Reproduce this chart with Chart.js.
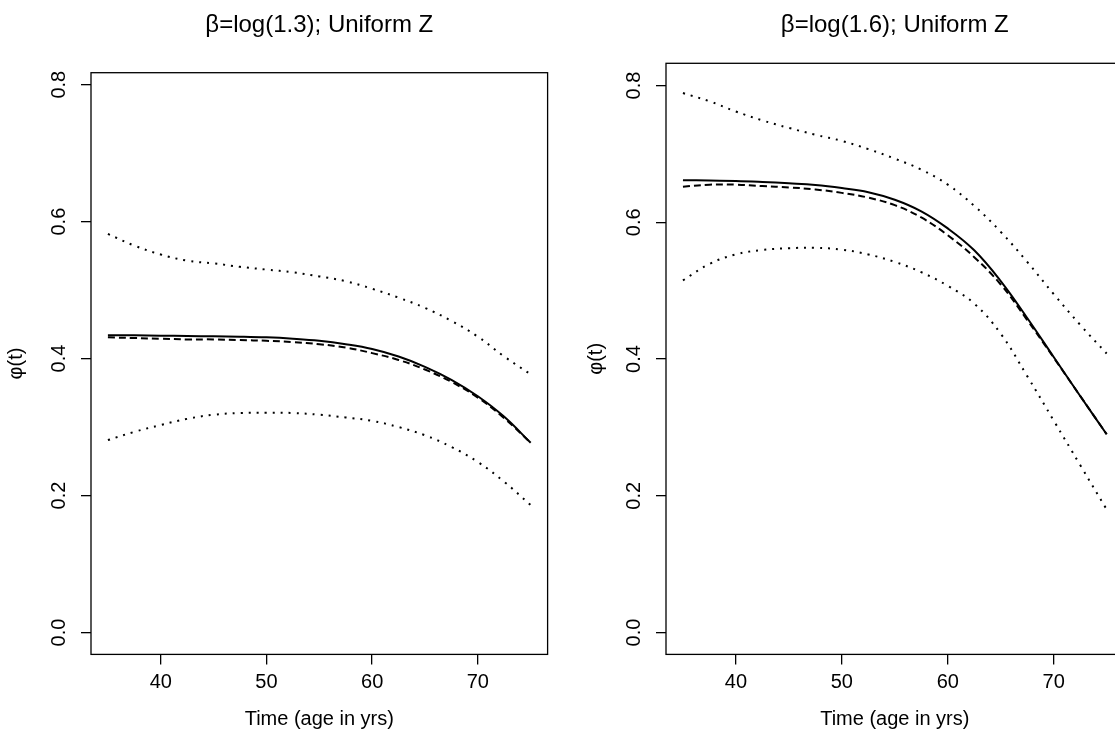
<!DOCTYPE html>
<html>
<head>
<meta charset="utf-8">
<script src="https://cdn.jsdelivr.net/npm/chart.js@4.4.0/dist/chart.umd.min.js"></script>
<style>
html, body { margin: 0; padding: 0; background: #fff; overflow: hidden; width: 1115px; height: 733px; }
canvas { position: absolute; top: 0; }
#left-panel { left: 0; }
#right-panel { left: 575px; }
</style>
</head>
<body>
<canvas id="left-panel" width="560" height="733"></canvas>
<canvas id="right-panel" width="560" height="733"></canvas>
<script>
// --- DATA ---
const ages = [35, 37.5, 40, 42.5, 45, 47.5, 50, 52.5, 55, 57.5, 60, 62.5, 65, 67.5, 70, 72.5, 75];
const xTicks = [40, 50, 60, 70];
const yTicks = [0, 0.2, 0.4, 0.6, 0.8];
const yTickLabels = ['0.0', '0.2', '0.4', '0.6', '0.8'];

// beta = log(1.3)
const titleA = 'β=log(1.3); Uniform Z';
const trueA  = [0.434, 0.434, 0.4335, 0.433, 0.4325, 0.432, 0.431, 0.429, 0.426, 0.421, 0.414, 0.403, 0.388, 0.369, 0.345, 0.315, 0.277];
const estA   = [0.431, 0.430, 0.429, 0.428, 0.428, 0.427, 0.426, 0.424, 0.421, 0.416, 0.408, 0.398, 0.384, 0.366, 0.343, 0.313, 0.277];
const upperA = [0.582, 0.565, 0.552, 0.543, 0.539, 0.534, 0.530, 0.526, 0.520, 0.513, 0.502, 0.489, 0.474, 0.455, 0.432, 0.403, 0.377];
const lowerA = [0.281, 0.293, 0.303, 0.312, 0.318, 0.3205, 0.321, 0.3205, 0.318, 0.314, 0.309, 0.300, 0.288, 0.271, 0.249, 0.220, 0.186];

// beta = log(1.6)
const titleB = 'β=log(1.6); Uniform Z';
const trueB  = [0.6616, 0.661, 0.6605, 0.659, 0.657, 0.6545, 0.650, 0.644, 0.633, 0.616, 0.591, 0.559, 0.514, 0.460, 0.403, 0.346, 0.290];
const estB   = [0.652, 0.655, 0.655, 0.653, 0.651, 0.648, 0.643, 0.636, 0.625, 0.607, 0.581, 0.549, 0.509, 0.457, 0.402, 0.346, 0.290];
const upperB = [0.789, 0.777, 0.762, 0.749, 0.738, 0.728, 0.719, 0.707, 0.693, 0.677, 0.655, 0.624, 0.586, 0.542, 0.495, 0.450, 0.408];
const lowerB = [0.515, 0.539, 0.553, 0.5595, 0.562, 0.5627, 0.560, 0.553, 0.542, 0.527, 0.507, 0.481, 0.437, 0.375, 0.310, 0.245, 0.180];

const FONT = '"Liberation Sans", Arial, Helvetica, sans-serif';
Chart.defaults.font.family = FONT;
Chart.defaults.color = '#000';

// box, main title and rotated y tick labels (R style)
const rFrame = {
    id: 'rFrame',
    afterDraw(chart, args, opts) {
        const { ctx, chartArea: a, scales } = chart;
        ctx.save();
        ctx.strokeStyle = '#000';
        ctx.lineWidth = 1.3;
        ctx.strokeRect(a.left, a.top, a.right - a.left, a.bottom - a.top);

        ctx.fillStyle = '#000';
        ctx.font = '24px ' + FONT;
        ctx.textAlign = 'center';
        ctx.textBaseline = 'alphabetic';
        ctx.fillText(opts.title, (a.left + a.right) / 2, 32);

        ctx.font = '20px ' + FONT;
        ctx.textBaseline = 'middle';
        yTicks.forEach((v, i) => {
            const y = scales.y.getPixelForValue(v);
            ctx.save();
            ctx.translate(a.left - 31.5, y);
            ctx.rotate(-Math.PI / 2);
            ctx.fillText(yTickLabels[i], 0, 0);
            ctx.restore();
        });
        ctx.restore();
    }
};

function line(values, dash, width) {
    return {
        data: ages.map((a, i) => ({ x: a, y: values[i] })),
        borderColor: '#000',
        borderWidth: width,
        borderDash: dash,
        pointRadius: 0,
        tension: 0.4,
        fill: false
    };
}

function makePanel(id, title, tru, est, upper, lower, yMax, topPad, rightPad, yTitlePad) {
    new Chart(document.getElementById(id), {
        type: 'line',
        data: {
            datasets: [
                line(upper, [2, 6], 2),
                line(lower, [2, 6], 2),
                line(est, [7, 4], 2),
                line(tru, [], 2)
            ]
        },
        options: {
            responsive: false,
            animation: false,
            layout: { padding: { left: 0, right: rightPad, top: topPad, bottom: 0 } },
            plugins: {
                legend: { display: false },
                tooltip: { enabled: false },
                rFrame: { title: title }
            },
            scales: {
                x: {
                    type: 'linear',
                    min: 33.4,
                    max: 76.6,
                    afterBuildTicks: s => { s.ticks = xTicks.map(v => ({ value: v })); },
                    afterFit: s => { s.height = 78.6; },
                    ticks: { font: { size: 20 }, color: '#000', padding: 6, maxRotation: 0, callback: v => String(v) },
                    grid: { drawOnChartArea: false, drawTicks: true, tickLength: 10, color: '#000', lineWidth: 1.3 },
                    border: { display: false },
                    title: { display: true, text: 'Time (age in yrs)', font: { size: 20 }, color: '#000', padding: { top: 0, bottom: 2 } }
                },
                y: {
                    type: 'linear',
                    min: -0.032,
                    max: yMax,
                    afterBuildTicks: s => { s.ticks = yTicks.map(v => ({ value: v })); },
                    afterFit: s => { s.width = 91; },
                    ticks: { display: false },
                    grid: { drawOnChartArea: false, drawTicks: true, tickLength: 10, color: '#000', lineWidth: 1.3 },
                    border: { display: false },
                    title: { display: true, text: 'φ(t)', font: { size: 20 }, color: '#000', padding: { top: yTitlePad, bottom: 0 } }
                }
            }
        },
        plugins: [rFrame]
    });
}

makePanel('left-panel', titleA, trueA, estA, upperA, lowerA, 0.8175, 72.7, 12.4, 4);
makePanel('right-panel', titleB, trueB, estB, upperB, lowerB, 0.8325, 63.3, 11.4, 9);
</script>
</body>
</html>
